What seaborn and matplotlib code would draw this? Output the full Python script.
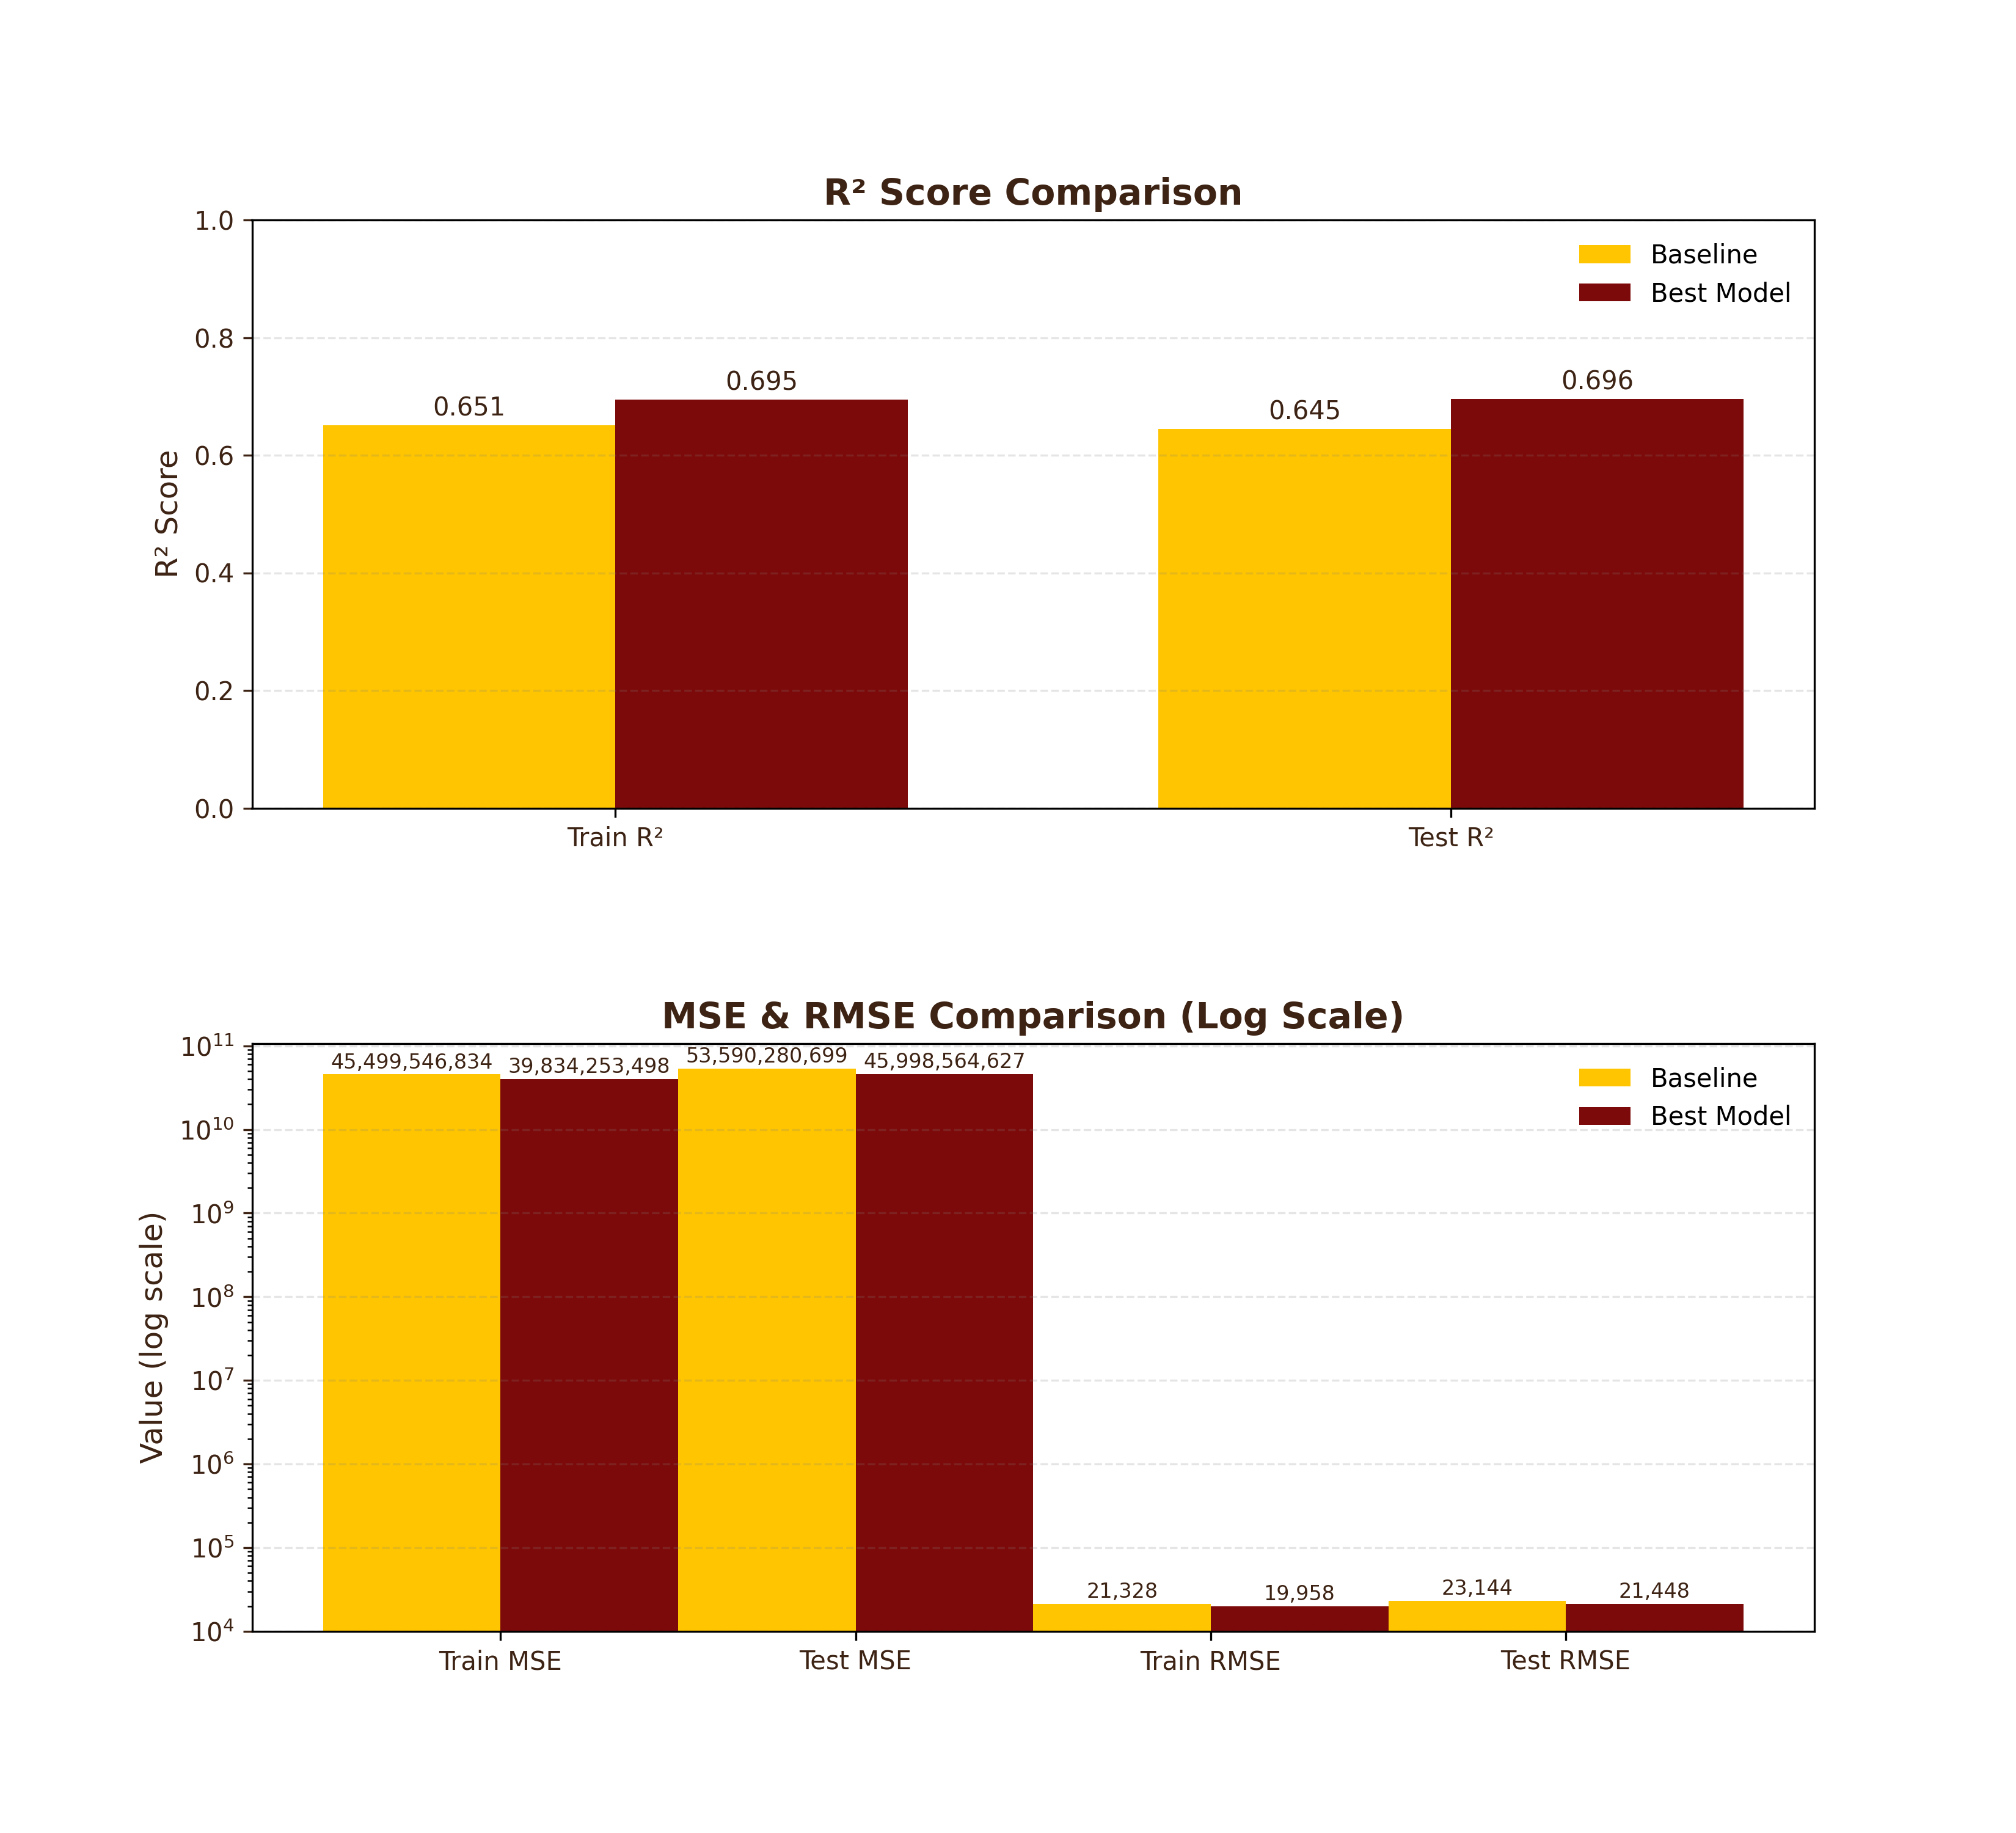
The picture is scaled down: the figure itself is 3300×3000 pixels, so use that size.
import numpy as np
import pandas as pd
import matplotlib
matplotlib.use("Agg")
import matplotlib.pyplot as plt
import seaborn as sns

# data
models = ["Baseline", "Best Model"]
r2_metrics = ["Train R²", "Test R²"]
r2_baseline = [0.651, 0.645]
r2_best = [0.695, 0.696]

err_metrics = ["Train MSE", "Test MSE", "Train RMSE", "Test RMSE"]
err_baseline = [45499546834, 53590280699, 21328, 23144]
err_best = [39834253498, 45998564627, 19958, 21448]

colors = ["#FFC500", "#7D0A0A"]
TXT = "#3D2314"


def to_long(metrics, base, best):
    return pd.DataFrame({
        "metric": metrics * 2,
        "model": [models[0]] * len(metrics) + [models[1]] * len(metrics),
        "value": list(base) + list(best),
    })


def style_axis(ax, title, ylabel):
    ax.set_title(title, fontsize=14, fontweight="bold", color=TXT)
    ax.set_ylabel(ylabel, fontsize=12, color=TXT)
    ax.set_xlabel("")
    ax.tick_params(axis="both", labelsize=10, labelcolor=TXT)
    ax.tick_params(axis="y", which="major", color=TXT)
    ax.grid(axis="y", linestyle="--", color="gray", alpha=0.2)
    ax.grid(axis="x", visible=False)
    ax.legend(loc="upper right", frameon=False, fontsize=10)


fig, (ax1, ax2) = plt.subplots(2, 1, figsize=(11, 10))
plt.subplots_adjust(hspace=0.4)

# R2 panel
df_r2 = to_long(r2_metrics, r2_baseline, r2_best)
sns.barplot(data=df_r2, x="metric", y="value", hue="model", hue_order=models,
            palette=colors, saturation=1, width=0.7, errorbar=None, ax=ax1)
for cont in ax1.containers:
    ax1.bar_label(cont, fmt="%.3f", padding=1.5, fontsize=10, color=TXT)
ax1.set_ylim(0, 1.0)
ax1.set_xlim(-0.435, 1.435)
style_axis(ax1, "R² Score Comparison", "R² Score")

# MSE / RMSE panel
df_err = to_long(err_metrics, err_baseline, err_best)
ax2.set_yscale("log")
sns.barplot(data=df_err, x="metric", y="value", hue="model", hue_order=models,
            palette=colors, saturation=1, width=1.0, errorbar=None, ax=ax2)
for cont in ax2.containers:
    ax2.bar_label(cont, labels=[f"{v:,.0f}" for v in cont.datavalues],
                  padding=0.7, fontsize=8, color=TXT)
all_err = err_baseline + err_best
ax2.set_ylim(min(all_err) * 0.5, max(all_err) * 2)
ax2.set_xlim(-0.7, 3.7)
style_axis(ax2, "MSE & RMSE Comparison (Log Scale)", "Value (log scale)")

fig.savefig("out.png", dpi=300)
